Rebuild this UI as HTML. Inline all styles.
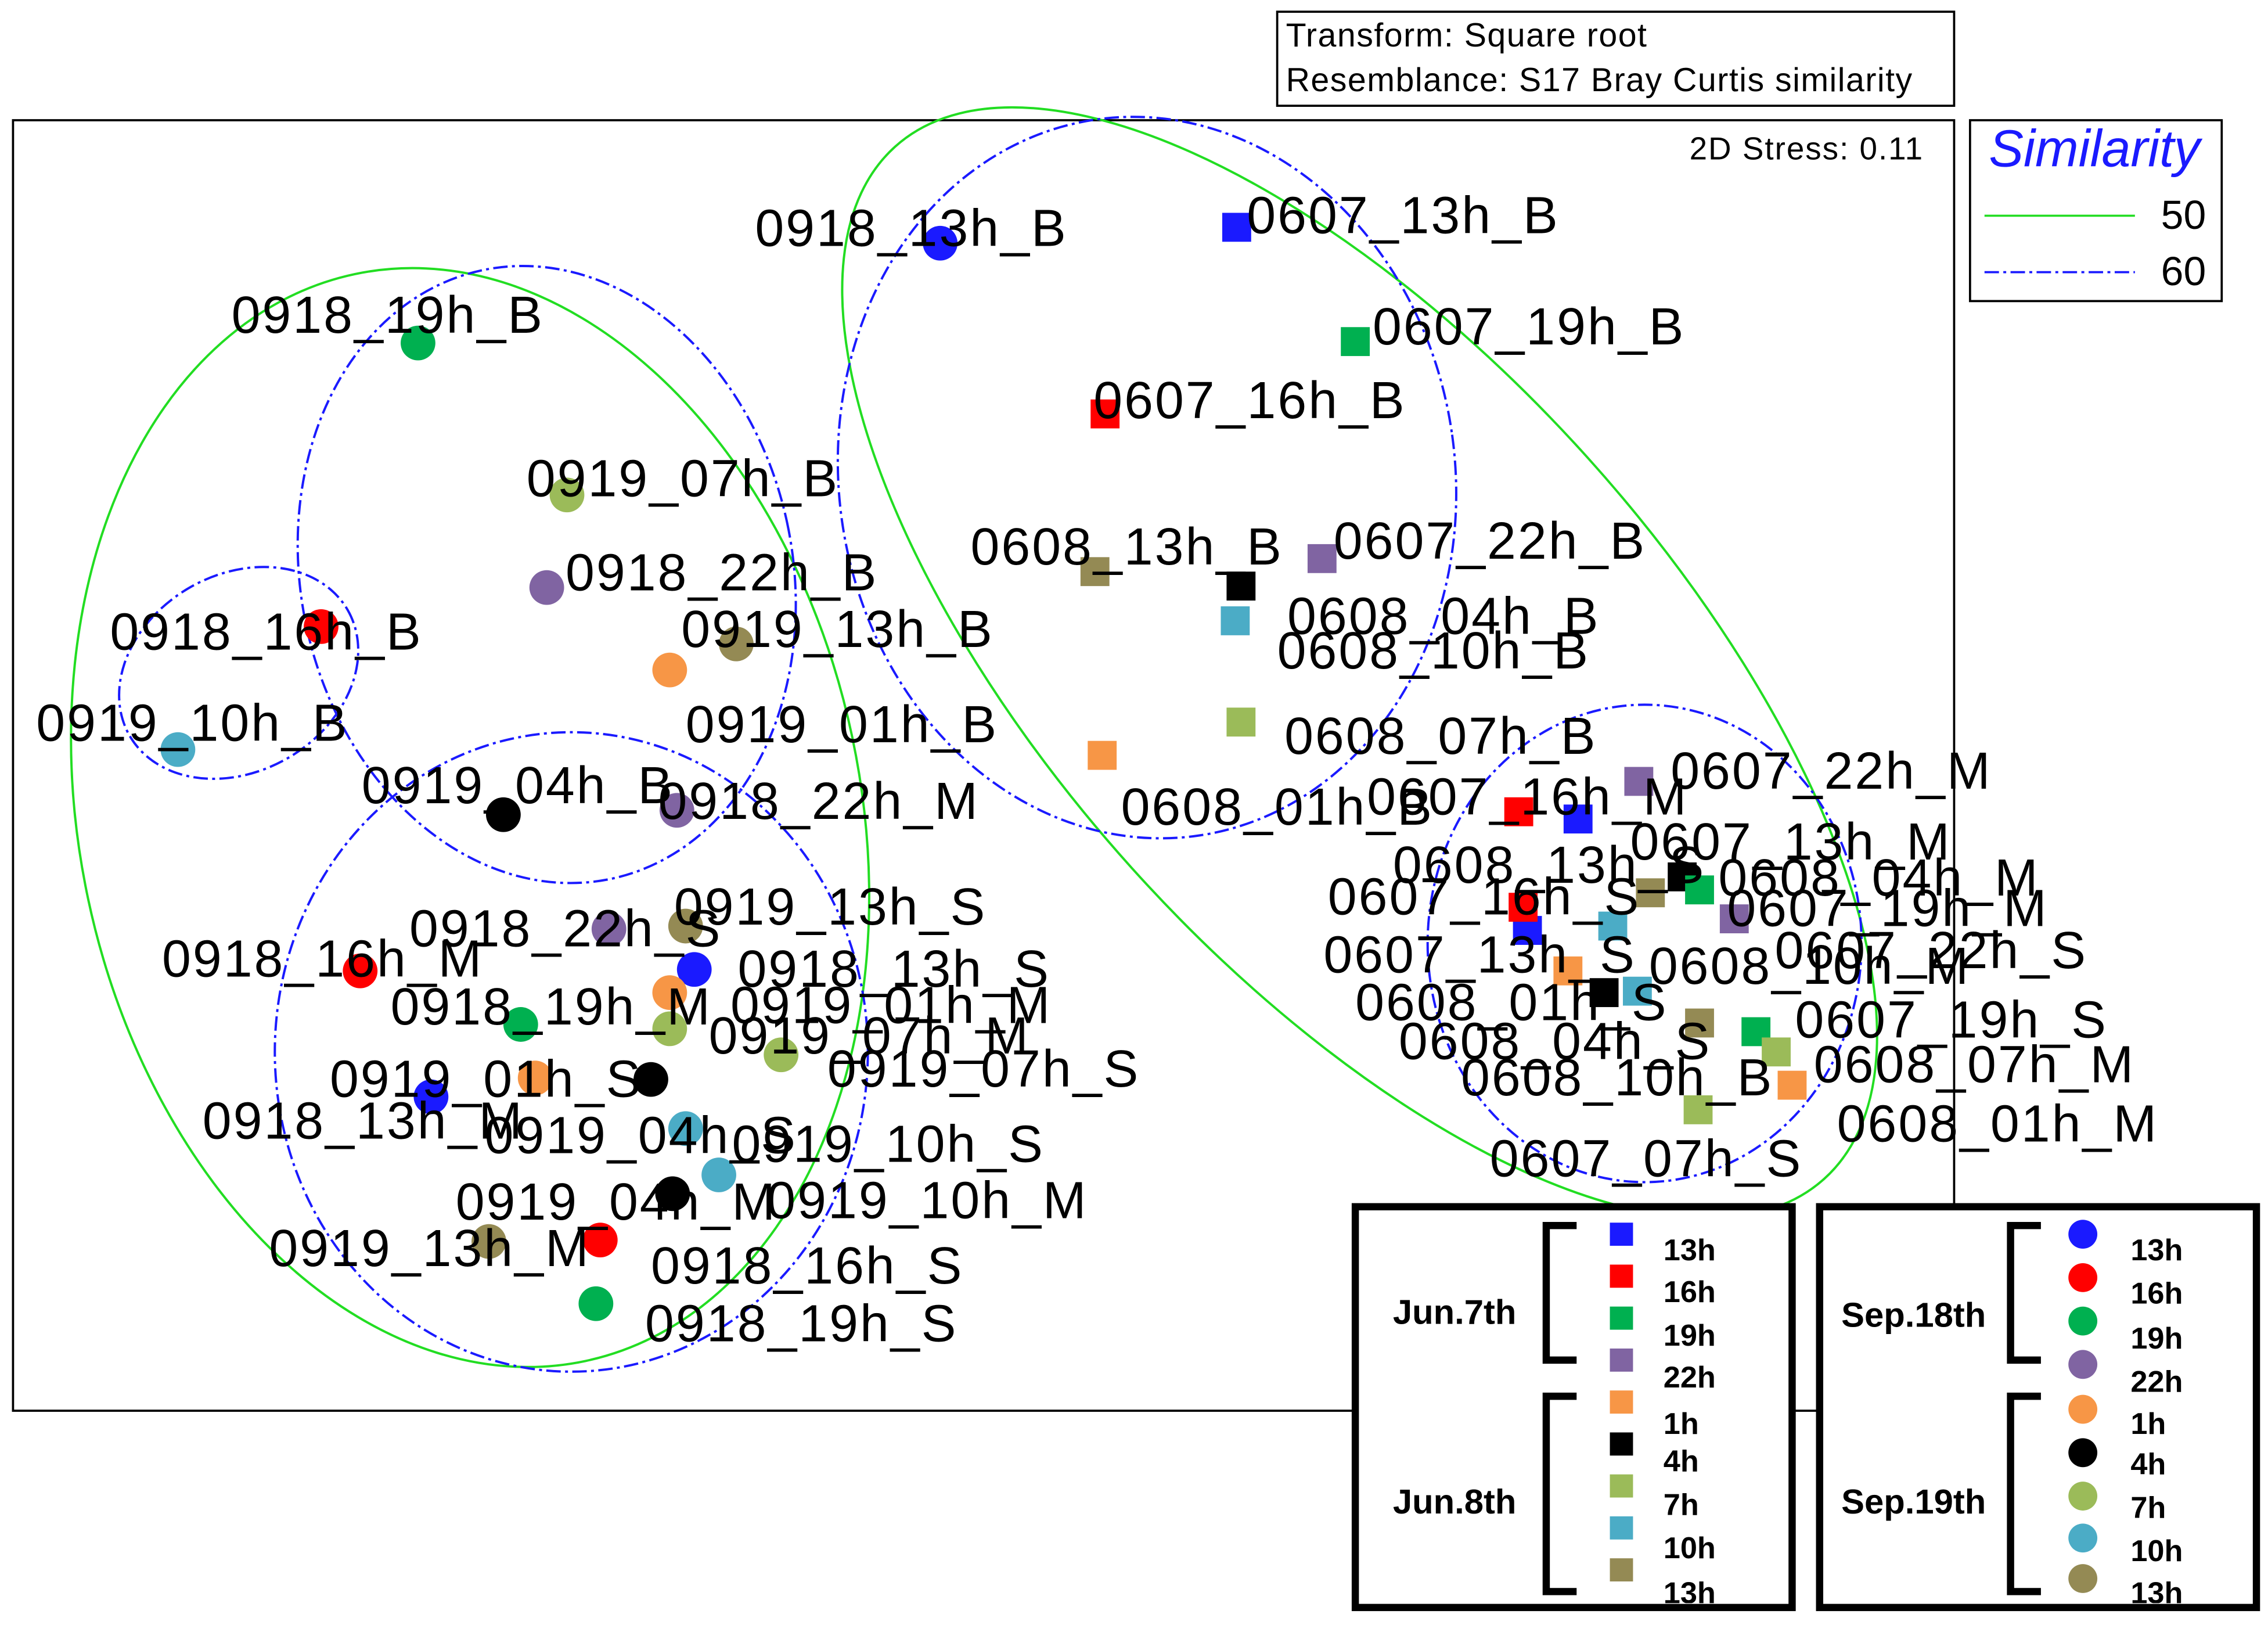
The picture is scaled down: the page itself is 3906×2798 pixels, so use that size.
<!DOCTYPE html>
<html><head><meta charset="utf-8"><style>html,body{margin:0;padding:0;background:#fff}svg{display:block}</style></head>
<body>
<svg width="3906" height="2798" viewBox="0 0 1568 1123" xmlns="http://www.w3.org/2000/svg" font-family="Liberation Sans, sans-serif">
<rect width="1568" height="1123" fill="#fff"/>
<rect x="883" y="8" width="468" height="65" fill="none" stroke="#000" stroke-width="1.5"/>
<text x="889" y="32" font-size="23" letter-spacing="0.6">Transform: Square root</text>
<text x="889" y="63" font-size="23" letter-spacing="0.6">Resemblance: S17 Bray Curtis similarity</text>
<rect x="9" y="83" width="1342" height="892" fill="none" stroke="#000" stroke-width="1.5"/>
<text x="1168" y="110" font-size="22" letter-spacing="0.8">2D Stress: 0.11</text>
<rect x="1362" y="83" width="174" height="125" fill="none" stroke="#000" stroke-width="1.5"/>
<text x="1375" y="115" font-size="36" font-style="italic" fill="#1a1aff">Similarity</text>
<line x1="1372" y1="149" x2="1476" y2="149" stroke="#22dd22" stroke-width="1.5"/>
<text x="1494" y="158" font-size="28">50</text>
<line x1="1372" y1="188" x2="1476" y2="188" stroke="#1a1aff" stroke-width="1.5" stroke-dasharray="10,3,2,3"/>
<text x="1494" y="197" font-size="28">60</text>
<g fill="none" stroke-width="1.6">
<ellipse cx="325" cy="565" rx="270" ry="384" transform="rotate(-12 325 565)" stroke="#22dd22"/>
<ellipse cx="940" cy="458" rx="480" ry="212" transform="rotate(48 940 458)" stroke="#22dd22"/>
<g stroke="#1a1aff" stroke-dasharray="10,3,2,3">
<ellipse cx="378" cy="397" rx="170" ry="215" transform="rotate(-12 378 397)"/>
<ellipse cx="165" cy="465" rx="87" ry="68" transform="rotate(-30 165 465)"/>
<ellipse cx="395" cy="727" rx="205" ry="221"/>
<ellipse cx="793" cy="330" rx="213" ry="250" transform="rotate(-8 793 330)"/>
<ellipse cx="1137" cy="652" rx="150" ry="165"/>
</g></g>
<g>
<circle cx="650" cy="168" r="12" fill="#1a1aff"/><circle cx="289" cy="237" r="12" fill="#00b050"/><circle cx="392" cy="342" r="12" fill="#9bbb59"/><circle cx="378" cy="406" r="12" fill="#8064a2"/><circle cx="222" cy="433" r="12" fill="#ff0000"/><circle cx="509" cy="445" r="12" fill="#948a54"/><circle cx="463" cy="463" r="12" fill="#f79646"/><circle cx="123" cy="518" r="12" fill="#4bacc6"/><circle cx="348" cy="563" r="12" fill="#000"/><circle cx="468" cy="560" r="12" fill="#8064a2"/><circle cx="421" cy="642" r="12" fill="#8064a2"/><circle cx="474" cy="640" r="12" fill="#948a54"/><circle cx="480" cy="670" r="12" fill="#1a1aff"/><circle cx="249" cy="671" r="12" fill="#ff0000"/><circle cx="463" cy="686" r="12" fill="#f79646"/><circle cx="463" cy="711" r="12" fill="#9bbb59"/><circle cx="360" cy="708" r="12" fill="#00b050"/><circle cx="540" cy="729" r="12" fill="#9bbb59"/><circle cx="370" cy="745" r="12" fill="#f79646"/><circle cx="450" cy="746" r="12" fill="#000"/><circle cx="298" cy="758" r="12" fill="#1a1aff"/><circle cx="474" cy="780" r="12" fill="#4bacc6"/><circle cx="497" cy="812" r="12" fill="#4bacc6"/><circle cx="465" cy="825" r="12" fill="#000"/><circle cx="338" cy="858" r="12" fill="#948a54"/><circle cx="415" cy="857" r="12" fill="#ff0000"/><circle cx="412" cy="901" r="12" fill="#00b050"/>
</g>
<g>
<rect x="845" y="147" width="20" height="20" fill="#1a1aff"/><rect x="927" y="226" width="20" height="20" fill="#00b050"/><rect x="754" y="276" width="20" height="20" fill="#ff0000"/><rect x="747" y="385" width="20" height="20" fill="#948a54"/><rect x="904" y="376" width="20" height="20" fill="#8064a2"/><rect x="848" y="395" width="20" height="20" fill="#000"/><rect x="844" y="419" width="20" height="20" fill="#4bacc6"/><rect x="848" y="489" width="20" height="20" fill="#9bbb59"/><rect x="752" y="512" width="20" height="20" fill="#f79646"/>
<rect x="1123" y="530" width="20" height="20" fill="#8064a2"/><rect x="1040" y="551" width="20" height="20" fill="#ff0000"/><rect x="1081" y="556" width="20" height="20" fill="#1a1aff"/><rect x="1131" y="607" width="20" height="20" fill="#948a54"/><rect x="1153" y="596" width="20" height="20" fill="#000"/><rect x="1165" y="605" width="20" height="20" fill="#00b050"/><rect x="1046" y="633" width="20" height="20" fill="#1a1aff"/><rect x="1043" y="617" width="20" height="20" fill="#ff0000"/><rect x="1189" y="625" width="20" height="20" fill="#8064a2"/><rect x="1105" y="630" width="20" height="20" fill="#4bacc6"/><rect x="1074" y="661" width="20" height="20" fill="#f79646"/><rect x="1099" y="676" width="20" height="20" fill="#000"/><rect x="1122" y="675" width="20" height="20" fill="#4bacc6"/><rect x="1165" y="697" width="20" height="20" fill="#948a54"/><rect x="1204" y="703" width="20" height="20" fill="#00b050"/><rect x="1218" y="717" width="20" height="20" fill="#9bbb59"/><rect x="1229" y="740" width="20" height="20" fill="#f79646"/><rect x="1164" y="757" width="20" height="20" fill="#9bbb59"/>
</g>
<g font-size="36" fill="#000" letter-spacing="1.2">
<text x="522" y="170">0918_13h_B</text><text x="160" y="230">0918_19h_B</text><text x="364" y="343">0919_07h_B</text><text x="391" y="408">0918_22h_B</text><text x="76" y="449">0918_16h_B</text><text x="471" y="447">0919_13h_B</text><text x="474" y="513">0919_01h_B</text><text x="25" y="512">0919_10h_B</text><text x="250" y="555">0919_04h_B</text><text x="455" y="566">0918_22h_M</text><text x="283" y="654">0918_22h_S</text><text x="466" y="639">0919_13h_S</text><text x="510" y="682">0918_13h_S</text><text x="112" y="675">0918_16h_M</text><text x="270" y="708">0918_19h_M</text><text x="505" y="707">0919_01h_M</text><text x="490" y="728">0919_07h_M</text><text x="572" y="751">0919_07h_S</text><text x="228" y="758">0919_01h_S</text><text x="140" y="787">0918_13h_M</text><text x="335" y="797">0919_04h_S</text><text x="506" y="803">0919_10h_S</text><text x="315" y="843">0919_04h_M</text><text x="530" y="842">0919_10h_M</text><text x="186" y="875">0919_13h_M</text><text x="450" y="887">0918_16h_S</text><text x="446" y="927">0918_19h_S</text>
<text x="862" y="161">0607_13h_B</text><text x="949" y="238">0607_19h_B</text><text x="756" y="289">0607_16h_B</text><text x="671" y="390">0608_13h_B</text><text x="922" y="386">0607_22h_B</text><text x="890" y="438">0608_04h_B</text><text x="883" y="462">0608_10h_B</text><text x="888" y="521">0608_07h_B</text><text x="775" y="570">0608_01h_B</text>
<text x="1155" y="545">0607_22h_M</text><text x="945" y="563">0607_16h_M</text><text x="1127" y="594">0607_13h_M</text><text x="963" y="610">0608_13h_S</text><text x="1188" y="619">0608_04h_M</text><text x="918" y="632">0607_16h_S</text><text x="1194" y="640">0607_19h_M</text><text x="915" y="672">0607_13h_S</text><text x="1140" y="680">0608_10h_M</text><text x="1227" y="669">0607_22h_S</text><text x="937" y="705">0608_01h_S</text><text x="1241" y="717">0607_19h_S</text><text x="967" y="732">0608_04h_S</text><text x="1254" y="748">0608_07h_M</text><text x="1010" y="757">0608_10h_B</text><text x="1270" y="789">0608_01h_M</text><text x="1030" y="813">0607_07h_S</text>
</g>
<rect x="937" y="834" width="302" height="277" fill="#fff" stroke="#000" stroke-width="5"/>
<rect x="1258" y="834" width="302" height="277" fill="#fff" stroke="#000" stroke-width="5"/>
<g font-size="24" font-weight="bold">
<text x="963" y="915">Jun.7th</text><text x="963" y="1046">Jun.8th</text>
<text x="1273" y="917">Sep.18th</text><text x="1273" y="1046">Sep.19th</text>
</g>
<g fill="none" stroke="#000" stroke-width="5">
<polyline points="1090,847 1069,847 1069,940 1090,940"/><polyline points="1090,965 1069,965 1069,1100 1090,1100"/>
<polyline points="1411,847 1390,847 1390,940 1411,940"/><polyline points="1411,965 1390,965 1390,1100 1411,1100"/>
</g>
<g>
<rect x="1113" y="845" width="16" height="16" fill="#1a1aff"/><rect x="1113" y="874" width="16" height="16" fill="#ff0000"/><rect x="1113" y="903" width="16" height="16" fill="#00b050"/><rect x="1113" y="932" width="16" height="16" fill="#8064a2"/><rect x="1113" y="961" width="16" height="16" fill="#f79646"/><rect x="1113" y="990" width="16" height="16" fill="#000"/><rect x="1113" y="1019" width="16" height="16" fill="#9bbb59"/><rect x="1113" y="1048" width="16" height="16" fill="#4bacc6"/><rect x="1113" y="1077" width="16" height="16" fill="#948a54"/>
<circle cx="1440" cy="853" r="10" fill="#1a1aff"/><circle cx="1440" cy="883" r="10" fill="#ff0000"/><circle cx="1440" cy="913" r="10" fill="#00b050"/><circle cx="1440" cy="943" r="10" fill="#8064a2"/><circle cx="1440" cy="974" r="10" fill="#f79646"/><circle cx="1440" cy="1004" r="10" fill="#000"/><circle cx="1440" cy="1034" r="10" fill="#9bbb59"/><circle cx="1440" cy="1063" r="10" fill="#4bacc6"/><circle cx="1440" cy="1091" r="10" fill="#948a54"/>
</g>
<svg x="937" y="834" width="302" height="274" overflow="hidden"><g font-size="21" font-weight="bold">
<text x="213" y="37">13h</text><text x="213" y="66">16h</text><text x="213" y="96">19h</text><text x="213" y="125">22h</text><text x="213" y="157">1h</text><text x="213" y="183">4h</text><text x="213" y="213">7h</text><text x="213" y="243">10h</text><text x="213" y="274">13h</text></g></svg>
<svg x="1258" y="834" width="302" height="274" overflow="hidden"><g font-size="21" font-weight="bold">
<text x="215" y="37">13h</text><text x="215" y="67">16h</text><text x="215" y="98">19h</text><text x="215" y="128">22h</text><text x="215" y="157">1h</text><text x="215" y="185">4h</text><text x="215" y="215">7h</text><text x="215" y="245">10h</text><text x="215" y="274">13h</text></g></svg>
</svg>
</body></html>
